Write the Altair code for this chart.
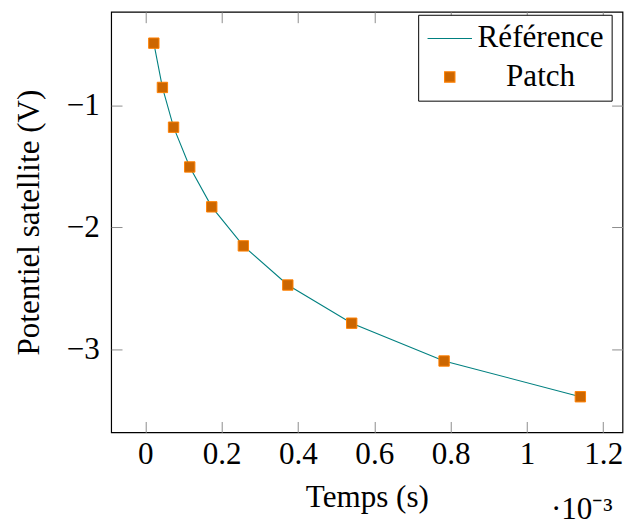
import altair as alt
import pandas as pd

# --- data (time in units of 1e-3 s) ---
t_ms = [0.0223, 0.0448, 0.0740, 0.1164, 0.1741, 0.2569, 0.3734, 0.5408, 0.7829, 1.1400]
potential = [-0.491, -0.854, -1.180, -1.506, -1.833, -2.153, -2.474, -2.787, -3.097, -3.390]
series_names = ["Référence", "Patch"]
x_ticks = [0, 0.2, 0.4, 0.6, 0.8, 1.0, 1.2]
y_ticks = [-1, -2, -3]

df = pd.DataFrame({
    "t": t_ms + t_ms,
    "v": potential + potential,
    "series": [series_names[0]] * len(t_ms) + [series_names[1]] * len(t_ms),
})

FONT = "Liberation Serif"
FS = 31.5
TEAL = "#008080"
FILL = "#CC6600"
EDGE = "#FF8000"
SYM = 900  # nominal symbol area -> 30 px box
LINE_SYM = "M-1.5,0H1.5"
SQUARE = "M-0.35,-0.35H0.35V0.35H-0.35Z"

xscale = alt.Scale(domain=[-0.0895, 1.2505], nice=False, zero=False)
yscale = alt.Scale(domain=[-3.682, -0.234], nice=False, zero=False)

ax_common = dict(tickSize=11, offset=-11, domain=False, grid=False,
                 tickColor="#8c8c8c", tickWidth=1,
                 labelFont=FONT, labelFontSize=FS, labelColor="black",
                 titleFont=FONT, titleFontSize=FS, titleColor="black",
                 titleFontWeight="normal")

legend = alt.Legend(
    orient="none", legendX=311, legendY=3, title=None,
    fillColor="white", strokeColor="black", padding=8, rowPadding=7,
    labelFont=FONT, labelFontSize=FS, labelColor="black",
    labelAlign="center", labelOffset=76, symbolOffset=8,
    symbolSize=SYM, symbolStrokeWidth=1.1, symbolOpacity=1,
)

line = alt.Chart(df).transform_filter(
    alt.datum.series == series_names[0]
).mark_line(color=TEAL, strokeWidth=1.1).encode(
    x=alt.X("t:Q", scale=xscale,
            axis=alt.Axis(orient="bottom", values=x_ticks, format="~g",
                          title="Temps (s)", labelPadding=7, titlePadding=12,
                          **ax_common)),
    y=alt.Y("v:Q", scale=yscale,
            axis=alt.Axis(orient="left", values=y_ticks, format="~g",
                          title="Potentiel satellite (V)", labelPadding=12,
                          titlePadding=21, **ax_common)),
)

points = alt.Chart(df).transform_filter(
    alt.datum.series == series_names[1]
).mark_point(filled=True, size=SYM, opacity=1, strokeWidth=1).encode(
    x=alt.X("t:Q", scale=xscale,
            axis=alt.Axis(orient="top", values=x_ticks, labels=False,
                          title=None, **ax_common)),
    y=alt.Y("v:Q", scale=yscale,
            axis=alt.Axis(orient="right", values=y_ticks, labels=False,
                          title=None, **ax_common)),
    color=alt.Color("series:N", scale=alt.Scale(domain=series_names, range=[TEAL, FILL]), legend=legend),
    stroke=alt.Stroke("series:N", scale=alt.Scale(domain=series_names, range=[TEAL, EDGE]), legend=legend),
    shape=alt.Shape("series:N", scale=alt.Scale(domain=series_names, range=[LINE_SYM, SQUARE]), legend=legend),
)

chart = alt.layer(line, points).resolve_axis(
    x="independent", y="independent"
).properties(
    width=518, height=426,
    background="white",
    autosize=alt.AutoSizeParams(type="none"),
    padding={"left": 104.5, "top": 0.5, "right": 1.5, "bottom": 92},
    title=alt.TitleParams("·10⁻³", orient="bottom", anchor="end", frame="group",
                          font=FONT, fontSize=FS, fontWeight="normal",
                          color="black", dx=-10, offset=-19),
).configure_view(
    stroke="black", strokeWidth=1.2
)

chart.save("out.html", embed_options={"renderer": "svg", "actions": False})
